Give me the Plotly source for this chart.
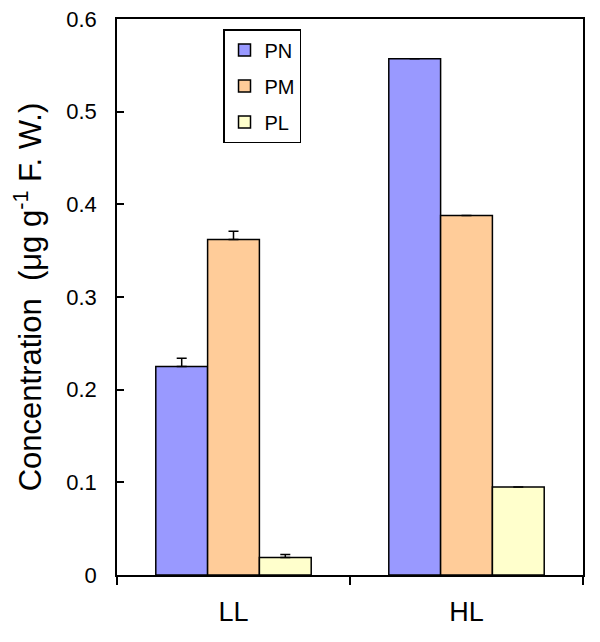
import plotly.graph_objects as go

categories = ["LL", "HL"]
series_names = ["PN", "PM", "PL"]
pn_values = [0.225, 0.557]
pm_values = [0.362, 0.388]
pl_values = [0.019, 0.095]
pn_err = [0.009, None]
pm_err = [0.009, None]
pl_err = [0.003, None]
colors = ["#9999FF", "#FFCC99", "#FFFFCC"]
y_ticks = [0, 0.1, 0.2, 0.3, 0.4, 0.5, 0.6]
y_ticklabels = ["0", "0.1", "0.2", "0.3", "0.4", "0.5", "0.6"]

FONT = "Arial, Liberation Sans, sans-serif"

fig = go.Figure()
for name, vals, errs, col in zip(series_names, [pn_values, pm_values, pl_values],
                                 [pn_err, pm_err, pl_err], colors):
    fig.add_trace(go.Bar(
        x=categories, y=vals, name=name, legendgroup=name,
        marker=dict(color=col, line=dict(color="black", width=1.5)),
        error_y=dict(type="data", array=errs, arrayminus=[0 if e is not None else None for e in errs],
                     symmetric=False, color="black", thickness=1.5, width=5),
    ))

fig.update_layout(
    width=600, height=642,
    margin=dict(l=109, r=25, t=11, b=75, autoexpand=False),
    plot_bgcolor="white", paper_bgcolor="white",
    barmode="group", bargap=0.333, bargroupgap=0,
    font=dict(family=FONT, color="black"),
    showlegend=True,
    legend=dict(
        x=0.2275, y=0.982, xanchor="left", yanchor="top",
        bordercolor="black", borderwidth=1.5, bgcolor="white",
        font=dict(size=20, family=FONT, color="black"),
        tracegroupgap=7, traceorder="grouped",
    ),
    xaxis=dict(
        showline=True, linecolor="black", linewidth=1.5, mirror=True,
        ticks="outside", ticklen=8, tickwidth=1.5, tickcolor="black",
        tickson="boundaries",
        tickfont=dict(size=27, family=FONT, color="black"),
        ticklabelstandoff=12,
        showgrid=False, automargin=False,
    ),
    yaxis=dict(
        range=[0, 0.6], tickvals=y_ticks, ticktext=y_ticklabels,
        showline=True, linecolor="black", linewidth=1.5, mirror=True,
        ticks="inside", ticklen=7, tickwidth=1.5, tickcolor="black",
        tickfont=dict(size=22, family=FONT, color="black"),
        ticklabelstandoff=14, ticklabeloverflow="allow",
        showgrid=False, zeroline=False, automargin=False,
        title=dict(text="Concentration\u00a0 (\u03bcg g<sup>-1</sup> F. W.)",
                   font=dict(size=31, family=FONT, color="black"), standoff=29),
    ),
)

fig.write_html("out.html")
